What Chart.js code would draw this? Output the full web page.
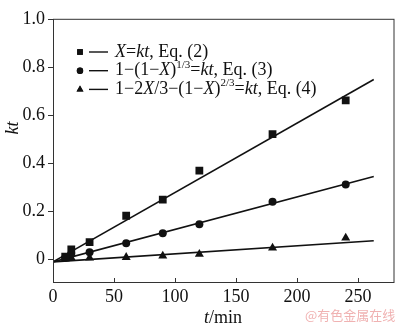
<!DOCTYPE html>
<html>
<head>
<meta charset="utf-8">
<script src="https://cdn.jsdelivr.net/npm/chart.js@4.4.0/dist/chart.umd.min.js"></script>
<style>
  html, body { margin: 0; padding: 0; background: #fff; }
  #wrap { position: relative; width: 400px; height: 323px; }
</style>
</head>
<body>
<div id="wrap"><canvas id="kinetics"></canvas></div>
<script>
// Sampling times (min) and kt values
const times = [10, 15, 30, 60, 90, 120, 180, 240];
const eq2Values = [0.010, 0.040, 0.070, 0.180, 0.247, 0.368, 0.520, 0.660];
const eq3Values = [0.005, 0.022, 0.028, 0.065, 0.107, 0.145, 0.238, 0.310];
const eq4Values = [0.000, 0.004, 0.004, 0.007, 0.013, 0.020, 0.046, 0.088];

// Fitted straight lines (start / end of each line)
const fitTimes = [0, 263];
const eq2Fit = [-0.012, 0.747];
const eq3Fit = [-0.012, 0.343];
const eq4Fit = [-0.012, 0.076];

const xTicks = [0, 50, 100, 150, 200, 250];
const yTicks = [0, 0.2, 0.4, 0.6, 0.8, 1.0];

// Legend text pieces: i = italic, n = normal, sup = superscript
const legendRows = [
  { style: 'rect', parts: [['X', 'i'], ['=', 'n'], ['kt', 'i'], [', Eq. (2)', 'n']] },
  { style: 'circle', parts: [['1−(1−', 'n'], ['X', 'i'], [')', 'n'], ['1/3', 'sup'], ['=', 'n'], ['kt', 'i'], [', Eq. (3)', 'n']] },
  { style: 'triangle', parts: [['1−2', 'n'], ['X', 'i'], ['/3−(1−', 'n'], ['X', 'i'], [')', 'n'], ['2/3', 'sup'], ['=', 'n'], ['kt', 'i'], [', Eq. (4)', 'n']] }
];

const SERIF = '"Liberation Serif", "Times New Roman", serif';
const INK = '#111';

const toPoints = (xs, ys) => xs.map((x, i) => ({ x: x, y: ys[i] }));

const pointSet = (vals, style, r) => ({
  type: 'scatter',
  data: toPoints(times, vals),
  pointStyle: style,
  pointRadius: r,
  pointBackgroundColor: INK,
  pointBorderColor: INK,
  pointBorderWidth: 0,
  showLine: false
});

const fitSet = vals => ({
  type: 'line',
  data: toPoints(fitTimes, vals),
  borderColor: INK,
  borderWidth: 1.6,
  pointRadius: 0,
  fill: false,
  tension: 0
});

// frame, inward ticks, rich legend, axis titles and watermark
const extras = {
  id: 'extras',
  afterDraw(chart) {
    const ctx = chart.ctx;
    const a = chart.chartArea;
    const xs = chart.scales.x, ys = chart.scales.y;
    ctx.save();
    ctx.strokeStyle = '#333';
    ctx.lineWidth = 1;
    ctx.strokeRect(a.left + 0.5, a.top + 0.5, a.right - a.left - 1, a.bottom - a.top - 1);

    ctx.beginPath();
    xTicks.forEach(v => {
      const px = Math.round(xs.getPixelForValue(v)) + 0.5;
      ctx.moveTo(px, a.bottom);
      ctx.lineTo(px, a.bottom - 5);
    });
    yTicks.forEach(v => {
      const py = Math.round(ys.getPixelForValue(v)) + 0.5;
      ctx.moveTo(a.left, py);
      ctx.lineTo(a.left - 5, py);
    });
    ctx.stroke();

    // legend
    ctx.fillStyle = INK;
    ctx.strokeStyle = INK;
    legendRows.forEach((row, i) => {
      const y = 52 + i * 18.7;
      const r = row.style === 'circle' ? 3.2 : 4;
      Chart.helpers.drawPoint(ctx, { pointStyle: row.style, radius: r, rotation: 0, borderWidth: 0 }, 80, y);
      ctx.fill();
      ctx.lineWidth = 1.4;
      ctx.beginPath();
      ctx.moveTo(89, y);
      ctx.lineTo(108, y);
      ctx.stroke();
      let x = 115;
      ctx.textBaseline = 'middle';
      row.parts.forEach(([t, s]) => {
        if (s === 'sup') {
          ctx.font = '11px ' + SERIF;
          ctx.fillText(t, x, y - 6);
        } else {
          ctx.font = (s === 'i' ? 'italic ' : '') + '18px ' + SERIF;
          ctx.fillText(t, x, y);
        }
        x += ctx.measureText(t).width;
      });
    });

    // y-axis title "kt"
    ctx.save();
    ctx.translate(13, 128);
    ctx.rotate(-Math.PI / 2);
    ctx.textAlign = 'center';
    ctx.textBaseline = 'middle';
    ctx.font = 'italic 18px ' + SERIF;
    ctx.fillText('kt', 0, 0);
    ctx.restore();

    // x-axis title "t/min"
    ctx.textBaseline = 'alphabetic';
    ctx.font = 'italic 18px ' + SERIF;
    const tW = ctx.measureText('t').width;
    ctx.font = '18px ' + SERIF;
    const mW = ctx.measureText('/min').width;
    const tx = 223 - (tW + mW) / 2;
    ctx.font = 'italic 18px ' + SERIF;
    ctx.fillText('t', tx, 323);
    ctx.font = '18px ' + SERIF;
    ctx.fillText('/min', tx + tW, 323);

    // watermark
    ctx.fillStyle = '#f0b2b2';
    ctx.font = '13px "Noto Sans CJK SC", sans-serif';
    ctx.fillText('@有色金属在线', 305, 320);
    ctx.restore();
  }
};

new Chart(document.getElementById('kinetics'), {
  data: {
    datasets: [
      pointSet(eq2Values, 'rect', 5.5),
      pointSet(eq3Values, 'circle', 4),
      pointSet(eq4Values, 'triangle', 5.2),
      fitSet(eq2Fit),
      fitSet(eq3Fit),
      fitSet(eq4Fit)
    ]
  },
  options: {
    responsive: true,
    maintainAspectRatio: false,
    animation: false,
    layout: { padding: { top: 4, right: 1, left: 0, bottom: 0 } },
    plugins: { legend: { display: false }, tooltip: { enabled: false } },
    scales: {
      x: {
        type: 'linear',
        min: 0,
        max: 280,
        afterBuildTicks: s => { s.ticks = xTicks.map(v => ({ value: v })); },
        afterFit: s => { s.height = 40; },
        grid: { display: false, drawTicks: false },
        border: { display: false },
        ticks: { color: INK, padding: 3, font: { family: SERIF, size: 18 } }
      },
      y: {
        type: 'linear',
        min: -0.1,
        max: 1.0,
        afterBuildTicks: s => { s.ticks = yTicks.map(v => ({ value: v })); },
        afterFit: s => { s.width = 53; },
        grid: { display: false, drawTicks: false },
        border: { display: false },
        ticks: {
          color: INK,
          padding: 8,
          font: { family: SERIF, size: 18 },
          callback: v => (v === 0 ? '0' : v.toFixed(1))
        }
      }
    }
  },
  plugins: [extras]
});
</script>
</body>
</html>
